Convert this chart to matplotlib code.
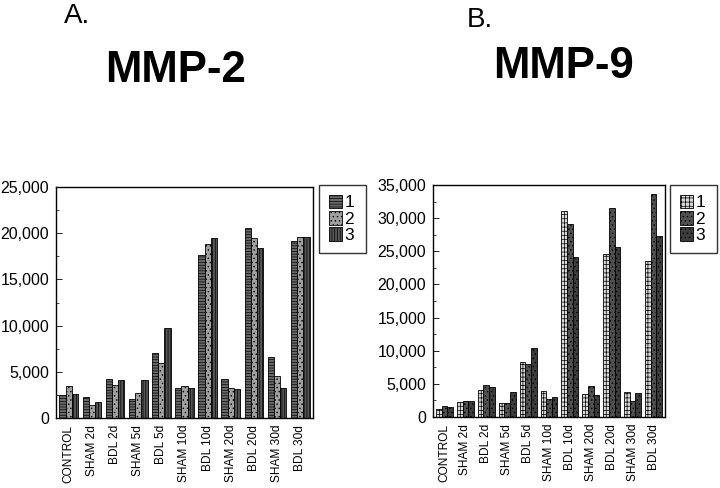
import matplotlib
matplotlib.use("Agg")
import matplotlib.pyplot as plt
import numpy as np
from matplotlib.ticker import FuncFormatter, MultipleLocator

plt.rcParams['font.family'] = ['Liberation Sans', 'DejaVu Sans']
plt.rcParams['hatch.linewidth'] = 0.5

categories = ["CONTROL", "SHAM 2d", "BDL 2d", "SHAM 5d", "BDL 5d", "SHAM 10d",
              "BDL 10d", "SHAM 20d", "BDL 20d", "SHAM 30d", "BDL 30d"]
series_names = ["1", "2", "3"]

mmp2_s1 = [2500, 2270, 4260, 2090, 7000, 3280, 17600, 4180, 20600, 6640, 19120]
mmp2_s2 = [3430, 1440, 3540, 2700, 5950, 3430, 18800, 3250, 19480, 4510, 19590]
mmp2_s3 = [2650, 1730, 4080, 4080, 9740, 3250, 19480, 3100, 18400, 3210, 19550]

mmp9_s1 = [1270, 2280, 4000, 2080, 8270, 3960, 31140, 3450, 24550, 3750, 23530]
mmp9_s2 = [1720, 2480, 4820, 2130, 7960, 2740, 29060, 4670, 31600, 2430, 33570]
mmp9_s3 = [1470, 2380, 4510, 3750, 10450, 3040, 24190, 3250, 25660, 3600, 27380]

W, H = 720, 488
fig = plt.figure(figsize=(W / 100, H / 100), dpi=100)


def px_axes(x0, y0, x1, y1):
    return fig.add_axes([x0 / W, 1 - y1 / H, (x1 - x0) / W, (y1 - y0) / H])


def draw(ax, series, styles, ymax, legend_box):
    x = np.arange(len(categories))
    bw = 0.27
    handles = []
    for i, (vals, (fc, hatch)) in enumerate(zip(series, styles)):
        b = ax.bar(x + (i - 1) * bw, vals, bw, color=fc, edgecolor='black',
                   hatch=hatch, linewidth=0.6, label=series_names[i])
        handles.append(b)
    ax.set_xlim(-0.55, len(categories) - 0.45)
    ax.set_ylim(0, ymax)
    ax.set_xticks(x)
    ax.set_xticklabels(categories, rotation=90, fontsize=8.6)
    ax.tick_params(axis='x', length=0, pad=5)
    ax.yaxis.set_major_locator(MultipleLocator(5000))
    ax.yaxis.set_minor_locator(MultipleLocator(2500))
    ax.yaxis.set_major_formatter(FuncFormatter(lambda v, p: f"{int(v):,}"))
    ax.tick_params(axis='y', which='major', direction='in', length=4, labelsize=11.5,
                   width=0.6, pad=5)
    ax.tick_params(axis='y', which='minor', direction='in', length=2, width=0.5)
    for s in ax.spines.values():
        s.set_linewidth(1.0)
    x0, y0, x1, y1 = legend_box
    leg = fig.legend(handles=handles, loc='upper left',
                     bbox_to_anchor=(x0 / W, 1 - y1 / H, (x1 - x0) / W, (y1 - y0) / H),
                     mode='expand', fontsize=12.5, frameon=True, fancybox=False,
                     handlelength=0.75, handleheight=0.85, handletextpad=0.15,
                     labelspacing=0.02, borderpad=0.55, borderaxespad=0.0)
    leg.get_frame().set_edgecolor('black')
    leg.get_frame().set_linewidth(1.0)


ax1 = px_axes(56, 187, 313, 418)
draw(ax1, [mmp2_s1, mmp2_s2, mmp2_s3],
     [('#6a6a6a', '------'), ('#a0a0a0', '....'), ('#555555', '||||||')],
     25000, (319, 185, 366, 253))

ax2 = px_axes(433, 185, 665, 417)
draw(ax2, [mmp9_s1, mmp9_s2, mmp9_s3],
     [('#d8d8d8', '++++'), ('#505050', '....'), ('#3c3c3c', '....')],
     35000, (670, 185, 717, 251))

fig.text(77 / W, 1 - 16 / H, "A.", fontsize=20, ha='center', va='center')
fig.text(176 / W, 1 - 70 / H, "MMP-2", fontsize=31.5, fontweight='bold', ha='center', va='center')
fig.text(480 / W, 1 - 20 / H, "B.", fontsize=20, ha='center', va='center')
fig.text(564 / W, 1 - 66 / H, "MMP-9", fontsize=31.5, fontweight='bold', ha='center', va='center')

fig.savefig("out.png", dpi=100)
